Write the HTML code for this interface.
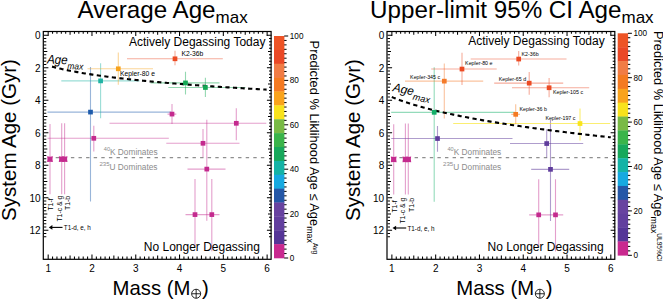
<!DOCTYPE html>
<html><head><meta charset="utf-8"><style>
html,body{margin:0;padding:0;background:#fff;}
svg{display:block;font-family:"Liberation Sans", sans-serif;}
</style></head><body>
<svg width="663" height="300" viewBox="0 0 663 300">
<rect width="663" height="300" fill="#fff"/>
<path d="M48.1 157.7H264.3" stroke="#8f8f8f" stroke-width="1.3" stroke-dasharray="3.4 4.2" fill="none"/>
<text x="103.8" y="154.8" font-size="8.3" fill="#8c8c8c"><tspan font-size="5.6" dy="-3.6">40</tspan><tspan dy="3.6">K Dominates</tspan></text>
<text x="99.4" y="169.6" font-size="8.3" fill="#8c8c8c"><tspan font-size="6.1" dy="-3.6">235</tspan><tspan dy="3.6">U Dominates</tspan></text>
<path d="M203 214.6H219.5M211.8 179.1V251.3" stroke="#c42a8e" stroke-opacity="0.45" stroke-width="1.1" fill="none"/>
<path d="M185.5 214.6H203M195 179.1V246.6" stroke="#c42a8e" stroke-opacity="0.45" stroke-width="1.1" fill="none"/>
<path d="M187.5 169.1H225.5M206.8 119.8V220.8" stroke="#c42a8e" stroke-opacity="0.45" stroke-width="1.1" fill="none"/>
<path d="M166.3 143.3H239.5M203 129.1V157.3" stroke="#c42a8e" stroke-opacity="0.45" stroke-width="1.1" fill="none"/>
<path d="M47.5 138.3H168.8M93.8 125.8V151.6" stroke="#c42a8e" stroke-opacity="0.45" stroke-width="1.1" fill="none"/>
<path d="M47.8 159.2H51.8M50 124.1V194.3" stroke="#c42a8e" stroke-opacity="0.45" stroke-width="1.1" fill="none"/>
<path d="M59.7 159.2H63.7M61.7 123.3V194.3" stroke="#c42a8e" stroke-opacity="0.45" stroke-width="1.1" fill="none"/>
<path d="M62.5 159.2H66.5M64.6 123.3V194.3" stroke="#c42a8e" stroke-opacity="0.45" stroke-width="1.1" fill="none"/>
<path d="M109.5 123.3H266.3M236.3 108.3V140.3" stroke="#c42a8e" stroke-opacity="0.45" stroke-width="1.1" fill="none"/>
<path d="M167.5 114.1H176.3M172 104.1V124.1" stroke="#c42a8e" stroke-opacity="0.45" stroke-width="1.1" fill="none"/>
<path d="M47.5 112.1H171.3M90.5 67.1V201.6" stroke="#1d5bab" stroke-opacity="0.45" stroke-width="1.1" fill="none"/>
<path d="M61.3 80.9H139.5M100.6 63.3V118.3" stroke="#1fb3a3" stroke-opacity="0.45" stroke-width="1.1" fill="none"/>
<path d="M168.3 87.5H245.5M205.4 77.8V97.1" stroke="#12a853" stroke-opacity="0.45" stroke-width="1.1" fill="none"/>
<path d="M150.5 82.9H219.5M185.5 71.8V94.6" stroke="#12a853" stroke-opacity="0.45" stroke-width="1.1" fill="none"/>
<path d="M87.5 68.8H153M118.3 52.6V84.8" stroke="#f7a21b" stroke-opacity="0.45" stroke-width="1.1" fill="none"/>
<path d="M127 58.8H222.8M175 50.8V65.3" stroke="#ec4a23" stroke-opacity="0.45" stroke-width="1.1" fill="none"/>
<path d="M52 66.61L53.5 67L55 67.39L56.5 67.76L58 68.12L59.5 68.48L61 68.82L62.5 69.16L64 69.49L65.5 69.81L67 70.12L68.5 70.43L70 70.73L71.5 71.02L73 71.31L74.5 71.59L76 71.87L77.5 72.14L79 72.41L80.5 72.67L82 72.93L83.5 73.18L85 73.42L86.5 73.67L88 73.91L89.5 74.14L91 74.37L92.5 74.6L94 74.82L95.5 75.05L97 75.26L98.5 75.48L100 75.69L101.5 75.89L103 76.1L104.5 76.3L106 76.5L107.5 76.7L109 76.89L110.5 77.08L112 77.27L113.5 77.46L115 77.64L116.5 77.82L118 78L119.5 78.18L121 78.35L122.5 78.53L124 78.7L125.5 78.87L127 79.03L128.5 79.2L130 79.36L131.5 79.52L133 79.68L134.5 79.84L136 80L137.5 80.15L139 80.3L140.5 80.46L142 80.61L143.5 80.75L145 80.9L146.5 81.05L148 81.19L149.5 81.33L151 81.47L152.5 81.61L154 81.75L155.5 81.89L157 82.03L158.5 82.16L160 82.29L161.5 82.43L163 82.56L164.5 82.69L166 82.82L167.5 82.94L169 83.07L170.5 83.2L172 83.32L173.5 83.45L175 83.57L176.5 83.69L178 83.81L179.5 83.93L181 84.05L182.5 84.17L184 84.28L185.5 84.4L187 84.51L188.5 84.63L190 84.74L191.5 84.85L193 84.97L194.5 85.08L196 85.19L197.5 85.3L199 85.4L200.5 85.51L202 85.62L203.5 85.72L205 85.83L206.5 85.93L208 86.04L209.5 86.14L211 86.24L212.5 86.35L214 86.45L215.5 86.55L217 86.65L218.5 86.75L220 86.84L221.5 86.94L223 87.04L224.5 87.14L226 87.23L227.5 87.33L229 87.42L230.5 87.52L232 87.61L233.5 87.7L235 87.8L236.5 87.89L238 87.98L239.5 88.07L241 88.16L242.5 88.25L244 88.34L245.5 88.43L247 88.52L248.5 88.6L250 88.69L251.5 88.78L253 88.86L254.5 88.95L256 89.03L257.5 89.12L259 89.2L260.5 89.29L262 89.37L263.5 89.45L265 89.54L266.5 89.62L266.6 89.62" stroke="#000" stroke-width="2.1" stroke-dasharray="4.2 3.4" fill="none"/>
<rect x="209.45" y="212.25" width="4.7" height="4.7" fill="#c42a8e"/>
<rect x="192.65" y="212.25" width="4.7" height="4.7" fill="#c42a8e"/>
<rect x="204.45" y="166.75" width="4.7" height="4.7" fill="#c42a8e"/>
<rect x="200.65" y="140.95" width="4.7" height="4.7" fill="#c42a8e"/>
<rect x="91.45" y="135.95" width="4.7" height="4.7" fill="#c42a8e"/>
<path d="M47.1 156.3Q50 157.2 52.9 156.3Q52 159.2 52.9 162.1Q50 161.2 47.1 162.1Q48 159.2 47.1 156.3z" fill="#c42a8e"/>
<path d="M58.8 156.3Q61.7 157.2 64.6 156.3Q63.7 159.2 64.6 162.1Q61.7 161.2 58.8 162.1Q59.7 159.2 58.8 156.3z" fill="#c42a8e"/>
<path d="M61.7 156.3Q64.6 157.2 67.5 156.3Q66.6 159.2 67.5 162.1Q64.6 161.2 61.7 162.1Q62.6 159.2 61.7 156.3z" fill="#c42a8e"/>
<rect x="233.95" y="120.95" width="4.7" height="4.7" fill="#c42a8e"/>
<rect x="169.65" y="111.75" width="4.7" height="4.7" fill="#c42a8e"/>
<rect x="88.15" y="109.75" width="4.7" height="4.7" fill="#1d5bab"/>
<rect x="98.25" y="78.55" width="4.7" height="4.7" fill="#1fb3a3"/>
<rect x="203.05" y="85.15" width="4.7" height="4.7" fill="#12a853"/>
<rect x="183.15" y="80.55" width="4.7" height="4.7" fill="#12a853"/>
<rect x="115.95" y="66.45" width="4.7" height="4.7" fill="#f7a21b"/>
<rect x="172.65" y="56.45" width="4.7" height="4.7" fill="#ec4a23"/>
<text x="128.9" y="46" font-size="12">Actively Degassing Today</text>
<text x="143.8" y="251.3" font-size="12">No Longer Degassing</text>
<text x="181.5" y="56" font-size="6.75">K2-36b</text>
<text x="120.1" y="76.3" font-size="6.75">Kepler-80 e</text>
<text transform="translate(53.3 210.6) rotate(-90)" font-size="6.9">T1-f</text>
<text transform="translate(61.7 221.6) rotate(-90)" font-size="6.9">T1-c &amp; g</text>
<text transform="translate(70.4 210) rotate(-90)" font-size="6.9">T1-b</text>
<path d="M51.5 227.4H62.5" stroke="#000" stroke-width="1.1"/>
<path d="M48.8 227.4l3.6 -2.3v4.6z" fill="#000"/>
<text x="63.8" y="229.9" font-size="6.3">T1-d, e, h</text>
<path d="M48.18 259v-4.6M48.18 31.3v4.6M52.56 259v-2.5M52.56 31.3v2.5M56.94 259v-2.5M56.94 31.3v2.5M61.32 259v-2.5M61.32 31.3v2.5M65.69 259v-2.5M65.69 31.3v2.5M70.07 259v-3.5M70.07 31.3v3.5M74.45 259v-2.5M74.45 31.3v2.5M78.83 259v-2.5M78.83 31.3v2.5M83.21 259v-2.5M83.21 31.3v2.5M87.59 259v-2.5M87.59 31.3v2.5M91.97 259v-4.6M91.97 31.3v4.6M96.35 259v-2.5M96.35 31.3v2.5M100.73 259v-2.5M100.73 31.3v2.5M105.1 259v-2.5M105.1 31.3v2.5M109.48 259v-2.5M109.48 31.3v2.5M113.86 259v-3.5M113.86 31.3v3.5M118.24 259v-2.5M118.24 31.3v2.5M122.62 259v-2.5M122.62 31.3v2.5M127 259v-2.5M127 31.3v2.5M131.38 259v-2.5M131.38 31.3v2.5M135.76 259v-4.6M135.76 31.3v4.6M140.13 259v-2.5M140.13 31.3v2.5M144.51 259v-2.5M144.51 31.3v2.5M148.89 259v-2.5M148.89 31.3v2.5M153.27 259v-2.5M153.27 31.3v2.5M157.65 259v-3.5M157.65 31.3v3.5M162.03 259v-2.5M162.03 31.3v2.5M166.41 259v-2.5M166.41 31.3v2.5M170.79 259v-2.5M170.79 31.3v2.5M175.17 259v-2.5M175.17 31.3v2.5M179.54 259v-4.6M179.54 31.3v4.6M183.92 259v-2.5M183.92 31.3v2.5M188.3 259v-2.5M188.3 31.3v2.5M192.68 259v-2.5M192.68 31.3v2.5M197.06 259v-2.5M197.06 31.3v2.5M201.44 259v-3.5M201.44 31.3v3.5M205.82 259v-2.5M205.82 31.3v2.5M210.2 259v-2.5M210.2 31.3v2.5M214.57 259v-2.5M214.57 31.3v2.5M218.95 259v-2.5M218.95 31.3v2.5M223.33 259v-4.6M223.33 31.3v4.6M227.71 259v-2.5M227.71 31.3v2.5M232.09 259v-2.5M232.09 31.3v2.5M236.47 259v-2.5M236.47 31.3v2.5M240.85 259v-2.5M240.85 31.3v2.5M245.23 259v-3.5M245.23 31.3v3.5M249.61 259v-2.5M249.61 31.3v2.5M253.98 259v-2.5M253.98 31.3v2.5M258.36 259v-2.5M258.36 31.3v2.5M262.74 259v-2.5M262.74 31.3v2.5M267.12 259v-4.6M267.12 31.3v4.6M43.8 35.2h4.6M271.5 35.2h-4.6M43.8 38.45h2.5M271.5 38.45h-2.5M43.8 41.7h2.5M271.5 41.7h-2.5M43.8 44.96h2.5M271.5 44.96h-2.5M43.8 48.21h2.5M271.5 48.21h-2.5M43.8 51.46h3.5M271.5 51.46h-3.5M43.8 54.71h2.5M271.5 54.71h-2.5M43.8 57.96h2.5M271.5 57.96h-2.5M43.8 61.22h2.5M271.5 61.22h-2.5M43.8 64.47h2.5M271.5 64.47h-2.5M43.8 67.72h4.6M271.5 67.72h-4.6M43.8 70.97h2.5M271.5 70.97h-2.5M43.8 74.22h2.5M271.5 74.22h-2.5M43.8 77.48h2.5M271.5 77.48h-2.5M43.8 80.73h2.5M271.5 80.73h-2.5M43.8 83.98h3.5M271.5 83.98h-3.5M43.8 87.23h2.5M271.5 87.23h-2.5M43.8 90.48h2.5M271.5 90.48h-2.5M43.8 93.74h2.5M271.5 93.74h-2.5M43.8 96.99h2.5M271.5 96.99h-2.5M43.8 100.24h4.6M271.5 100.24h-4.6M43.8 103.49h2.5M271.5 103.49h-2.5M43.8 106.74h2.5M271.5 106.74h-2.5M43.8 110h2.5M271.5 110h-2.5M43.8 113.25h2.5M271.5 113.25h-2.5M43.8 116.5h3.5M271.5 116.5h-3.5M43.8 119.75h2.5M271.5 119.75h-2.5M43.8 123h2.5M271.5 123h-2.5M43.8 126.26h2.5M271.5 126.26h-2.5M43.8 129.51h2.5M271.5 129.51h-2.5M43.8 132.76h4.6M271.5 132.76h-4.6M43.8 136.01h2.5M271.5 136.01h-2.5M43.8 139.26h2.5M271.5 139.26h-2.5M43.8 142.52h2.5M271.5 142.52h-2.5M43.8 145.77h2.5M271.5 145.77h-2.5M43.8 149.02h3.5M271.5 149.02h-3.5M43.8 152.27h2.5M271.5 152.27h-2.5M43.8 155.52h2.5M271.5 155.52h-2.5M43.8 158.78h2.5M271.5 158.78h-2.5M43.8 162.03h2.5M271.5 162.03h-2.5M43.8 165.28h4.6M271.5 165.28h-4.6M43.8 168.53h2.5M271.5 168.53h-2.5M43.8 171.78h2.5M271.5 171.78h-2.5M43.8 175.04h2.5M271.5 175.04h-2.5M43.8 178.29h2.5M271.5 178.29h-2.5M43.8 181.54h3.5M271.5 181.54h-3.5M43.8 184.79h2.5M271.5 184.79h-2.5M43.8 188.04h2.5M271.5 188.04h-2.5M43.8 191.3h2.5M271.5 191.3h-2.5M43.8 194.55h2.5M271.5 194.55h-2.5M43.8 197.8h4.6M271.5 197.8h-4.6M43.8 201.05h2.5M271.5 201.05h-2.5M43.8 204.3h2.5M271.5 204.3h-2.5M43.8 207.56h2.5M271.5 207.56h-2.5M43.8 210.81h2.5M271.5 210.81h-2.5M43.8 214.06h3.5M271.5 214.06h-3.5M43.8 217.31h2.5M271.5 217.31h-2.5M43.8 220.56h2.5M271.5 220.56h-2.5M43.8 223.82h2.5M271.5 223.82h-2.5M43.8 227.07h2.5M271.5 227.07h-2.5M43.8 230.32h4.6M271.5 230.32h-4.6M43.8 233.57h2.5M271.5 233.57h-2.5M43.8 236.82h2.5M271.5 236.82h-2.5" stroke="#000" stroke-width="1.05" fill="none"/>
<rect x="43.3" y="31.5" width="227.8" height="227.8" fill="none" stroke="#000" stroke-width="1.2"/>
<text x="48.18" y="271.5" font-size="10" text-anchor="middle">1</text>
<text x="91.97" y="271.5" font-size="10" text-anchor="middle">2</text>
<text x="135.76" y="271.5" font-size="10" text-anchor="middle">3</text>
<text x="179.54" y="271.5" font-size="10" text-anchor="middle">4</text>
<text x="223.33" y="271.5" font-size="10" text-anchor="middle">5</text>
<text x="267.12" y="271.5" font-size="10" text-anchor="middle">6</text>
<text x="40.5" y="39.1" font-size="10" text-anchor="end">0</text>
<text x="40.5" y="71.62" font-size="10" text-anchor="end">2</text>
<text x="40.5" y="104.14" font-size="10" text-anchor="end">4</text>
<text x="40.5" y="136.66" font-size="10" text-anchor="end">6</text>
<text x="40.5" y="169.18" font-size="10" text-anchor="end">8</text>
<text x="40.5" y="201.7" font-size="10" text-anchor="end">10</text>
<text x="40.5" y="234.22" font-size="10" text-anchor="end">12</text>
<rect x="274" y="36" width="10.4" height="14.18" fill="#ee5426"/>
<rect x="274" y="49.88" width="10.4" height="14.18" fill="#ea4826"/>
<rect x="274" y="63.75" width="10.4" height="14.18" fill="#f17c45"/>
<rect x="274" y="77.62" width="10.4" height="14.18" fill="#f47a21"/>
<rect x="274" y="91.5" width="10.4" height="14.18" fill="#f9a31c"/>
<rect x="274" y="105.38" width="10.4" height="14.18" fill="#f8e21c"/>
<rect x="274" y="119.25" width="10.4" height="14.18" fill="#79ba45"/>
<rect x="274" y="133.12" width="10.4" height="14.18" fill="#3ab44a"/>
<rect x="274" y="147" width="10.4" height="14.18" fill="#17a85b"/>
<rect x="274" y="160.88" width="10.4" height="14.18" fill="#14b3a6"/>
<rect x="274" y="174.75" width="10.4" height="14.18" fill="#16a9e0"/>
<rect x="274" y="188.62" width="10.4" height="14.18" fill="#2457a7"/>
<rect x="274" y="202.5" width="10.4" height="14.18" fill="#6843a0"/>
<rect x="274" y="216.38" width="10.4" height="14.18" fill="#623f9e"/>
<rect x="274" y="230.25" width="10.4" height="14.18" fill="#553597"/>
<rect x="274" y="244.12" width="10.4" height="14.18" fill="#c9298f"/>
<path d="M284.2 258h4M284.2 253.56h2.4M284.2 249.12h2.4M284.2 244.68h2.4M284.2 240.24h2.4M284.2 235.8h2.4M284.2 231.36h2.4M284.2 226.92h2.4M284.2 222.48h2.4M284.2 218.04h2.4M284.2 213.6h4M284.2 209.16h2.4M284.2 204.72h2.4M284.2 200.28h2.4M284.2 195.84h2.4M284.2 191.4h2.4M284.2 186.96h2.4M284.2 182.52h2.4M284.2 178.08h2.4M284.2 173.64h2.4M284.2 169.2h4M284.2 164.76h2.4M284.2 160.32h2.4M284.2 155.88h2.4M284.2 151.44h2.4M284.2 147h2.4M284.2 142.56h2.4M284.2 138.12h2.4M284.2 133.68h2.4M284.2 129.24h2.4M284.2 124.8h4M284.2 120.36h2.4M284.2 115.92h2.4M284.2 111.48h2.4M284.2 107.04h2.4M284.2 102.6h2.4M284.2 98.16h2.4M284.2 93.72h2.4M284.2 89.28h2.4M284.2 84.84h2.4M284.2 80.4h4M284.2 75.96h2.4M284.2 71.52h2.4M284.2 67.08h2.4M284.2 62.64h2.4M284.2 58.2h2.4M284.2 53.76h2.4M284.2 49.32h2.4M284.2 44.88h2.4M284.2 40.44h2.4M284.2 36h4" stroke="#000" stroke-width="1" fill="none"/>
<text x="289.8" y="261" font-size="8.2">0</text>
<text x="289.8" y="216.6" font-size="8.2">20</text>
<text x="289.8" y="172.2" font-size="8.2">40</text>
<text x="289.8" y="127.8" font-size="8.2">60</text>
<text x="289.8" y="83.4" font-size="8.2">80</text>
<text x="289.8" y="39" font-size="8.2">100</text>
<text transform="translate(46.9 63.5) rotate(2.5) scale(0.92 1)" font-size="12.6" font-style="italic">Age<tspan font-size="9.1" dy="4.6">max</tspan></text>
<text x="77.5" y="18.4" font-size="24.2">Average Age<tspan font-size="17" dy="4.6">max</tspan></text>
<text transform="translate(16.2 140) rotate(-90)" font-size="20.5" text-anchor="middle">System Age (Gyr)</text>
<text x="112.6" y="294.7" font-size="20.3">Mass (M</text>
<circle cx="196.15" cy="293.75" r="4.5" fill="none" stroke="#000" stroke-width="0.85"/>
<path d="M191.65 293.75h9M196.15 289.25v9" stroke="#000" stroke-width="0.85"/>
<text x="202.1" y="294.7" font-size="20.3">)</text>
<text transform="translate(309.8 40.6) rotate(90)" font-size="12.85">Predicted % Liklihood Age &#x2264; Age<tspan font-size="8.9" dy="2.4">max</tspan><tspan font-size="6.6" dy="-5.4">Avg</tspan></text>
<path d="M391.8 157.7H608" stroke="#8f8f8f" stroke-width="1.3" stroke-dasharray="3.4 4.2" fill="none"/>
<text x="447.5" y="154.8" font-size="8.3" fill="#8c8c8c"><tspan font-size="5.6" dy="-3.6">40</tspan><tspan dy="3.6">K Dominates</tspan></text>
<text x="443.1" y="169.6" font-size="8.3" fill="#8c8c8c"><tspan font-size="6.1" dy="-3.6">235</tspan><tspan dy="3.6">U Dominates</tspan></text>
<path d="M546.7 214.85H563.2M555.5 179.35V251.55" stroke="#c42a8e" stroke-opacity="0.45" stroke-width="1.1" fill="none"/>
<path d="M529.2 214.85H546.7M538.7 179.35V246.85" stroke="#c42a8e" stroke-opacity="0.45" stroke-width="1.1" fill="none"/>
<path d="M531.2 169.35H569.2M550.5 120.05V221.05" stroke="#5f3c9c" stroke-opacity="0.5" stroke-width="1.1" fill="none"/>
<path d="M510 143.55H583.2M546.7 129.35V157.55" stroke="#5f3c9c" stroke-opacity="0.5" stroke-width="1.1" fill="none"/>
<path d="M391.2 138.55H512.5M437.5 126.05V151.85" stroke="#5f3c9c" stroke-opacity="0.5" stroke-width="1.1" fill="none"/>
<path d="M391.5 159.45H395.5M393.7 124.35V194.55" stroke="#c42a8e" stroke-opacity="0.45" stroke-width="1.1" fill="none"/>
<path d="M403.4 159.45H407.4M405.4 123.55V194.55" stroke="#c42a8e" stroke-opacity="0.45" stroke-width="1.1" fill="none"/>
<path d="M406.2 159.45H410.2M408.3 123.55V194.55" stroke="#c42a8e" stroke-opacity="0.45" stroke-width="1.1" fill="none"/>
<path d="M453.2 123.55H610M580 108.55V140.55" stroke="#f9e41a" stroke-opacity="0.62" stroke-width="1.1" fill="none"/>
<path d="M511.2 114.35H520M515.7 104.35V124.35" stroke="#f47a21" stroke-opacity="0.45" stroke-width="1.1" fill="none"/>
<path d="M391.2 112.35H515M434.2 67.35V201.85" stroke="#12af68" stroke-opacity="0.45" stroke-width="1.1" fill="none"/>
<path d="M405 81.15H483.2M444.3 63.55V118.55" stroke="#f47a2a" stroke-opacity="0.45" stroke-width="1.1" fill="none"/>
<path d="M512 87.75H589.2M549.1 78.05V97.35" stroke="#ec4a23" stroke-opacity="0.45" stroke-width="1.1" fill="none"/>
<path d="M494.2 83.15H563.2M529.2 72.05V94.85" stroke="#ec4a23" stroke-opacity="0.45" stroke-width="1.1" fill="none"/>
<path d="M431.2 69.05H496.7M462 52.85V85.05" stroke="#ec4a23" stroke-opacity="0.45" stroke-width="1.1" fill="none"/>
<path d="M470.7 59.05H566.5M518.7 51.05V65.55" stroke="#ec4a23" stroke-opacity="0.45" stroke-width="1.1" fill="none"/>
<path d="M391.8 97.03L393.3 97.64L394.8 98.23L396.3 98.81L397.8 99.38L399.3 99.93L400.8 100.47L402.3 101L403.8 101.52L405.3 102.03L406.8 102.53L408.3 103.02L409.8 103.5L411.3 103.97L412.8 104.43L414.3 104.89L415.8 105.33L417.3 105.77L418.8 106.2L420.3 106.63L421.8 107.05L423.3 107.46L424.8 107.86L426.3 108.26L427.8 108.66L429.3 109.04L430.8 109.43L432.3 109.8L433.8 110.18L435.3 110.54L436.8 110.91L438.3 111.27L439.8 111.62L441.3 111.97L442.8 112.31L444.3 112.65L445.8 112.99L447.3 113.32L448.8 113.65L450.3 113.98L451.8 114.3L453.3 114.62L454.8 114.93L456.3 115.24L457.8 115.55L459.3 115.86L460.8 116.16L462.3 116.46L463.8 116.75L465.3 117.05L466.8 117.34L468.3 117.63L469.8 117.91L471.3 118.19L472.8 118.47L474.3 118.75L475.8 119.02L477.3 119.29L478.8 119.56L480.3 119.83L481.8 120.1L483.3 120.36L484.8 120.62L486.3 120.88L487.8 121.13L489.3 121.39L490.8 121.64L492.3 121.89L493.8 122.14L495.3 122.38L496.8 122.63L498.3 122.87L499.8 123.11L501.3 123.35L502.8 123.59L504.3 123.82L505.8 124.05L507.3 124.29L508.8 124.52L510.3 124.75L511.8 124.97L513.3 125.2L514.8 125.42L516.3 125.64L517.8 125.86L519.3 126.08L520.8 126.3L522.3 126.52L523.8 126.73L525.3 126.95L526.8 127.16L528.3 127.37L529.8 127.58L531.3 127.79L532.8 127.99L534.3 128.2L535.8 128.4L537.3 128.61L538.8 128.81L540.3 129.01L541.8 129.21L543.3 129.41L544.8 129.6L546.3 129.8L547.8 130L549.3 130.19L550.8 130.38L552.3 130.57L553.8 130.76L555.3 130.95L556.8 131.14L558.3 131.33L559.8 131.52L561.3 131.7L562.8 131.89L564.3 132.07L565.8 132.25L567.3 132.43L568.8 132.61L570.3 132.79L571.8 132.97L573.3 133.15L574.8 133.33L576.3 133.5L577.8 133.68L579.3 133.85L580.8 134.03L582.3 134.2L583.8 134.37L585.3 134.54L586.8 134.71L588.3 134.88L589.8 135.05L591.3 135.22L592.8 135.38L594.3 135.55L595.8 135.72L597.3 135.88L598.8 136.04L600.3 136.21L601.8 136.37L603.3 136.53L604.8 136.69L606.3 136.85L607.8 137.01L609.3 137.17L610.8 137.33" stroke="#000" stroke-width="2.1" stroke-dasharray="4.2 3.4" fill="none"/>
<rect x="553.15" y="212.5" width="4.7" height="4.7" fill="#c42a8e"/>
<rect x="536.35" y="212.5" width="4.7" height="4.7" fill="#c42a8e"/>
<rect x="548.15" y="167" width="4.7" height="4.7" fill="#5f3c9c"/>
<rect x="544.35" y="141.2" width="4.7" height="4.7" fill="#5f3c9c"/>
<rect x="435.15" y="136.2" width="4.7" height="4.7" fill="#5f3c9c"/>
<path d="M390.8 156.55Q393.7 157.45 396.6 156.55Q395.7 159.45 396.6 162.35Q393.7 161.45 390.8 162.35Q391.7 159.45 390.8 156.55z" fill="#c42a8e"/>
<path d="M402.5 156.55Q405.4 157.45 408.3 156.55Q407.4 159.45 408.3 162.35Q405.4 161.45 402.5 162.35Q403.4 159.45 402.5 156.55z" fill="#c42a8e"/>
<path d="M405.4 156.55Q408.3 157.45 411.2 156.55Q410.3 159.45 411.2 162.35Q408.3 161.45 405.4 162.35Q406.3 159.45 405.4 156.55z" fill="#c42a8e"/>
<rect x="577.65" y="121.2" width="4.7" height="4.7" fill="#f9e41a"/>
<rect x="513.35" y="112" width="4.7" height="4.7" fill="#f47a21"/>
<rect x="431.85" y="110" width="4.7" height="4.7" fill="#12af68"/>
<rect x="441.95" y="78.8" width="4.7" height="4.7" fill="#f47a2a"/>
<rect x="546.75" y="85.4" width="4.7" height="4.7" fill="#ec4a23"/>
<rect x="526.85" y="80.8" width="4.7" height="4.7" fill="#ec4a23"/>
<rect x="459.65" y="66.7" width="4.7" height="4.7" fill="#ec4a23"/>
<rect x="516.35" y="56.7" width="4.7" height="4.7" fill="#ec4a23"/>
<text x="468.2" y="45.3" font-size="12">Actively Degassing Today</text>
<text x="487.5" y="251.3" font-size="12">No Longer Degassing</text>
<text x="521.5" y="55.55" font-size="5.3">K2-36b</text>
<text x="465.1" y="65.25" font-size="5.3">Kepler-80 e</text>
<text x="410.1" y="78.75" font-size="5.3">Kepler-345 c</text>
<text x="498.7" y="81.05" font-size="5.3">Kepler-65 d</text>
<text x="553" y="93.55" font-size="5.3">Kepler-105 c</text>
<text x="519.5" y="111.35" font-size="5.3">Kepler-36 b</text>
<text x="545.4" y="119.65" font-size="5.3">Kepler-197 c</text>
<text transform="translate(397 212.6) rotate(-90)" font-size="6.9">T1-f</text>
<text transform="translate(405.4 223.6) rotate(-90)" font-size="6.9">T1-c &amp; g</text>
<text transform="translate(414.1 212) rotate(-90)" font-size="6.9">T1-b</text>
<path d="M395.2 228H406.2" stroke="#000" stroke-width="1.1"/>
<path d="M392.5 228l3.6 -2.3v4.6z" fill="#000"/>
<text x="407.5" y="230.5" font-size="6.3">T1-d, e, h</text>
<path d="M391.88 259v-4.6M391.88 31.3v4.6M396.26 259v-2.5M396.26 31.3v2.5M400.64 259v-2.5M400.64 31.3v2.5M405.02 259v-2.5M405.02 31.3v2.5M409.39 259v-2.5M409.39 31.3v2.5M413.77 259v-3.5M413.77 31.3v3.5M418.15 259v-2.5M418.15 31.3v2.5M422.53 259v-2.5M422.53 31.3v2.5M426.91 259v-2.5M426.91 31.3v2.5M431.29 259v-2.5M431.29 31.3v2.5M435.67 259v-4.6M435.67 31.3v4.6M440.05 259v-2.5M440.05 31.3v2.5M444.43 259v-2.5M444.43 31.3v2.5M448.8 259v-2.5M448.8 31.3v2.5M453.18 259v-2.5M453.18 31.3v2.5M457.56 259v-3.5M457.56 31.3v3.5M461.94 259v-2.5M461.94 31.3v2.5M466.32 259v-2.5M466.32 31.3v2.5M470.7 259v-2.5M470.7 31.3v2.5M475.08 259v-2.5M475.08 31.3v2.5M479.46 259v-4.6M479.46 31.3v4.6M483.83 259v-2.5M483.83 31.3v2.5M488.21 259v-2.5M488.21 31.3v2.5M492.59 259v-2.5M492.59 31.3v2.5M496.97 259v-2.5M496.97 31.3v2.5M501.35 259v-3.5M501.35 31.3v3.5M505.73 259v-2.5M505.73 31.3v2.5M510.11 259v-2.5M510.11 31.3v2.5M514.49 259v-2.5M514.49 31.3v2.5M518.87 259v-2.5M518.87 31.3v2.5M523.24 259v-4.6M523.24 31.3v4.6M527.62 259v-2.5M527.62 31.3v2.5M532 259v-2.5M532 31.3v2.5M536.38 259v-2.5M536.38 31.3v2.5M540.76 259v-2.5M540.76 31.3v2.5M545.14 259v-3.5M545.14 31.3v3.5M549.52 259v-2.5M549.52 31.3v2.5M553.9 259v-2.5M553.9 31.3v2.5M558.27 259v-2.5M558.27 31.3v2.5M562.65 259v-2.5M562.65 31.3v2.5M567.03 259v-4.6M567.03 31.3v4.6M571.41 259v-2.5M571.41 31.3v2.5M575.79 259v-2.5M575.79 31.3v2.5M580.17 259v-2.5M580.17 31.3v2.5M584.55 259v-2.5M584.55 31.3v2.5M588.93 259v-3.5M588.93 31.3v3.5M593.31 259v-2.5M593.31 31.3v2.5M597.68 259v-2.5M597.68 31.3v2.5M602.06 259v-2.5M602.06 31.3v2.5M606.44 259v-2.5M606.44 31.3v2.5M610.82 259v-4.6M610.82 31.3v4.6M387.5 35.2h4.6M615.2 35.2h-4.6M387.5 38.45h2.5M615.2 38.45h-2.5M387.5 41.7h2.5M615.2 41.7h-2.5M387.5 44.96h2.5M615.2 44.96h-2.5M387.5 48.21h2.5M615.2 48.21h-2.5M387.5 51.46h3.5M615.2 51.46h-3.5M387.5 54.71h2.5M615.2 54.71h-2.5M387.5 57.96h2.5M615.2 57.96h-2.5M387.5 61.22h2.5M615.2 61.22h-2.5M387.5 64.47h2.5M615.2 64.47h-2.5M387.5 67.72h4.6M615.2 67.72h-4.6M387.5 70.97h2.5M615.2 70.97h-2.5M387.5 74.22h2.5M615.2 74.22h-2.5M387.5 77.48h2.5M615.2 77.48h-2.5M387.5 80.73h2.5M615.2 80.73h-2.5M387.5 83.98h3.5M615.2 83.98h-3.5M387.5 87.23h2.5M615.2 87.23h-2.5M387.5 90.48h2.5M615.2 90.48h-2.5M387.5 93.74h2.5M615.2 93.74h-2.5M387.5 96.99h2.5M615.2 96.99h-2.5M387.5 100.24h4.6M615.2 100.24h-4.6M387.5 103.49h2.5M615.2 103.49h-2.5M387.5 106.74h2.5M615.2 106.74h-2.5M387.5 110h2.5M615.2 110h-2.5M387.5 113.25h2.5M615.2 113.25h-2.5M387.5 116.5h3.5M615.2 116.5h-3.5M387.5 119.75h2.5M615.2 119.75h-2.5M387.5 123h2.5M615.2 123h-2.5M387.5 126.26h2.5M615.2 126.26h-2.5M387.5 129.51h2.5M615.2 129.51h-2.5M387.5 132.76h4.6M615.2 132.76h-4.6M387.5 136.01h2.5M615.2 136.01h-2.5M387.5 139.26h2.5M615.2 139.26h-2.5M387.5 142.52h2.5M615.2 142.52h-2.5M387.5 145.77h2.5M615.2 145.77h-2.5M387.5 149.02h3.5M615.2 149.02h-3.5M387.5 152.27h2.5M615.2 152.27h-2.5M387.5 155.52h2.5M615.2 155.52h-2.5M387.5 158.78h2.5M615.2 158.78h-2.5M387.5 162.03h2.5M615.2 162.03h-2.5M387.5 165.28h4.6M615.2 165.28h-4.6M387.5 168.53h2.5M615.2 168.53h-2.5M387.5 171.78h2.5M615.2 171.78h-2.5M387.5 175.04h2.5M615.2 175.04h-2.5M387.5 178.29h2.5M615.2 178.29h-2.5M387.5 181.54h3.5M615.2 181.54h-3.5M387.5 184.79h2.5M615.2 184.79h-2.5M387.5 188.04h2.5M615.2 188.04h-2.5M387.5 191.3h2.5M615.2 191.3h-2.5M387.5 194.55h2.5M615.2 194.55h-2.5M387.5 197.8h4.6M615.2 197.8h-4.6M387.5 201.05h2.5M615.2 201.05h-2.5M387.5 204.3h2.5M615.2 204.3h-2.5M387.5 207.56h2.5M615.2 207.56h-2.5M387.5 210.81h2.5M615.2 210.81h-2.5M387.5 214.06h3.5M615.2 214.06h-3.5M387.5 217.31h2.5M615.2 217.31h-2.5M387.5 220.56h2.5M615.2 220.56h-2.5M387.5 223.82h2.5M615.2 223.82h-2.5M387.5 227.07h2.5M615.2 227.07h-2.5M387.5 230.32h4.6M615.2 230.32h-4.6M387.5 233.57h2.5M615.2 233.57h-2.5M387.5 236.82h2.5M615.2 236.82h-2.5" stroke="#000" stroke-width="1.05" fill="none"/>
<rect x="387" y="31.5" width="227.8" height="227.8" fill="none" stroke="#000" stroke-width="1.2"/>
<text x="391.88" y="271.5" font-size="10" text-anchor="middle">1</text>
<text x="435.67" y="271.5" font-size="10" text-anchor="middle">2</text>
<text x="479.46" y="271.5" font-size="10" text-anchor="middle">3</text>
<text x="523.24" y="271.5" font-size="10" text-anchor="middle">4</text>
<text x="567.03" y="271.5" font-size="10" text-anchor="middle">5</text>
<text x="610.82" y="271.5" font-size="10" text-anchor="middle">6</text>
<text x="384.2" y="39.1" font-size="10" text-anchor="end">0</text>
<text x="384.2" y="71.62" font-size="10" text-anchor="end">2</text>
<text x="384.2" y="104.14" font-size="10" text-anchor="end">4</text>
<text x="384.2" y="136.66" font-size="10" text-anchor="end">6</text>
<text x="384.2" y="169.18" font-size="10" text-anchor="end">8</text>
<text x="384.2" y="201.7" font-size="10" text-anchor="end">10</text>
<text x="384.2" y="234.22" font-size="10" text-anchor="end">12</text>
<rect x="617.7" y="33.3" width="10.4" height="14.18" fill="#ee5426"/>
<rect x="617.7" y="47.17" width="10.4" height="14.18" fill="#ea4826"/>
<rect x="617.7" y="61.05" width="10.4" height="14.18" fill="#f17c45"/>
<rect x="617.7" y="74.92" width="10.4" height="14.18" fill="#f47a21"/>
<rect x="617.7" y="88.8" width="10.4" height="14.18" fill="#f9a31c"/>
<rect x="617.7" y="102.67" width="10.4" height="14.18" fill="#f8e21c"/>
<rect x="617.7" y="116.55" width="10.4" height="14.18" fill="#79ba45"/>
<rect x="617.7" y="130.43" width="10.4" height="14.18" fill="#3ab44a"/>
<rect x="617.7" y="144.3" width="10.4" height="14.18" fill="#17a85b"/>
<rect x="617.7" y="158.18" width="10.4" height="14.18" fill="#14b3a6"/>
<rect x="617.7" y="172.05" width="10.4" height="14.18" fill="#16a9e0"/>
<rect x="617.7" y="185.93" width="10.4" height="14.18" fill="#2457a7"/>
<rect x="617.7" y="199.8" width="10.4" height="14.18" fill="#6843a0"/>
<rect x="617.7" y="213.68" width="10.4" height="14.18" fill="#623f9e"/>
<rect x="617.7" y="227.55" width="10.4" height="14.18" fill="#553597"/>
<rect x="617.7" y="241.43" width="10.4" height="14.18" fill="#c9298f"/>
<path d="M627.9 255.3h4M627.9 250.86h2.4M627.9 246.42h2.4M627.9 241.98h2.4M627.9 237.54h2.4M627.9 233.1h2.4M627.9 228.66h2.4M627.9 224.22h2.4M627.9 219.78h2.4M627.9 215.34h2.4M627.9 210.9h4M627.9 206.46h2.4M627.9 202.02h2.4M627.9 197.58h2.4M627.9 193.14h2.4M627.9 188.7h2.4M627.9 184.26h2.4M627.9 179.82h2.4M627.9 175.38h2.4M627.9 170.94h2.4M627.9 166.5h4M627.9 162.06h2.4M627.9 157.62h2.4M627.9 153.18h2.4M627.9 148.74h2.4M627.9 144.3h2.4M627.9 139.86h2.4M627.9 135.42h2.4M627.9 130.98h2.4M627.9 126.54h2.4M627.9 122.1h4M627.9 117.66h2.4M627.9 113.22h2.4M627.9 108.78h2.4M627.9 104.34h2.4M627.9 99.9h2.4M627.9 95.46h2.4M627.9 91.02h2.4M627.9 86.58h2.4M627.9 82.14h2.4M627.9 77.7h4M627.9 73.26h2.4M627.9 68.82h2.4M627.9 64.38h2.4M627.9 59.94h2.4M627.9 55.5h2.4M627.9 51.06h2.4M627.9 46.62h2.4M627.9 42.18h2.4M627.9 37.74h2.4M627.9 33.3h4" stroke="#000" stroke-width="1" fill="none"/>
<text x="633.5" y="258.3" font-size="8.2">0</text>
<text x="633.5" y="213.9" font-size="8.2">20</text>
<text x="633.5" y="169.5" font-size="8.2">40</text>
<text x="633.5" y="125.1" font-size="8.2">60</text>
<text x="633.5" y="80.7" font-size="8.2">80</text>
<text x="633.5" y="36.3" font-size="8.2">100</text>
<text transform="translate(392.2 91.0) rotate(12)" font-size="12" font-style="italic">Age<tspan font-size="9.2" dy="4.2">max</tspan></text>
<text x="370.1" y="18.4" font-size="24.2">Upper-limit 95% CI Age<tspan font-size="17" dy="4.6">max</tspan></text>
<text transform="translate(359.9 140) rotate(-90)" font-size="20.5" text-anchor="middle">System Age (Gyr)</text>
<text x="456.3" y="294.7" font-size="20.3">Mass (M</text>
<circle cx="539.85" cy="293.75" r="4.5" fill="none" stroke="#000" stroke-width="0.85"/>
<path d="M535.35 293.75h9M539.85 289.25v9" stroke="#000" stroke-width="0.85"/>
<text x="545.8" y="294.7" font-size="20.3">)</text>
<text transform="translate(653.5 31) rotate(90)" font-size="12.85">Predicted % Liklihood Age &#x2264; Age<tspan font-size="8.9" dy="2.4">max</tspan><tspan font-size="6.5" dy="-5.4">UL95%CI</tspan></text>
</svg>
</body></html>
